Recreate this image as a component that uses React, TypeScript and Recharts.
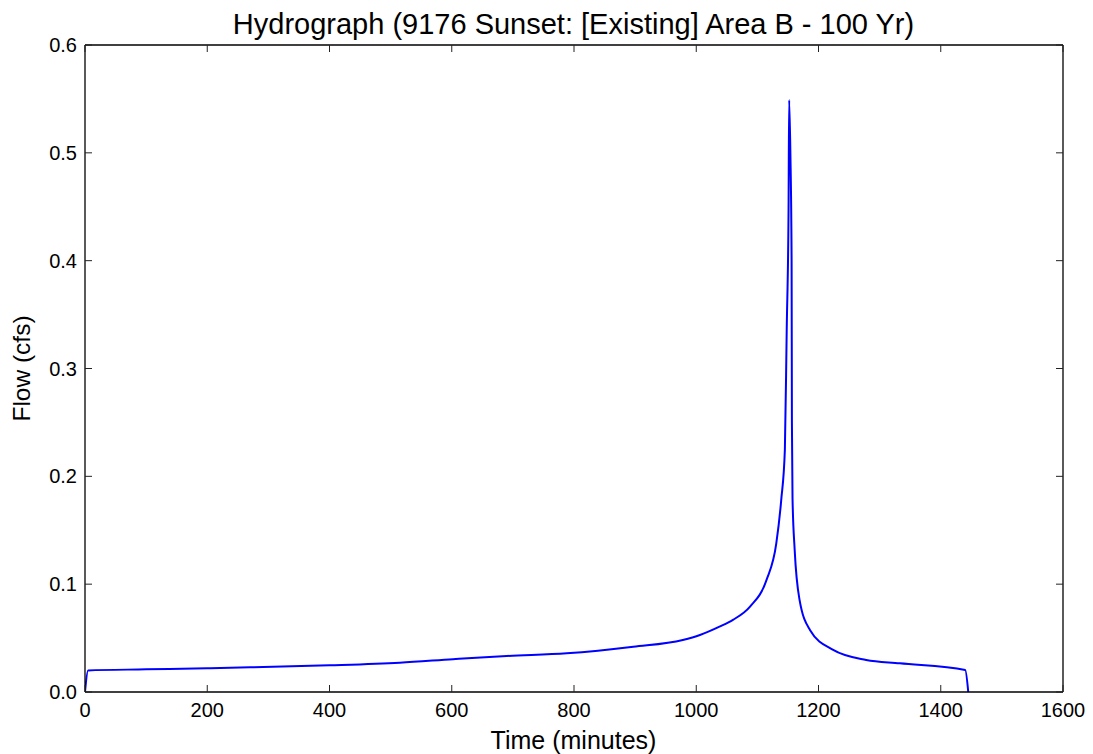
import React from "react";
import { LineChart, Line, XAxis, YAxis, ReferenceLine } from "recharts";

const TITLE = "Hydrograph (9176 Sunset: [Existing] Area B - 100 Yr)";
const X_LABEL = "Time (minutes)";
const Y_LABEL = "Flow (cfs)";

const timeMinutes = [
  0, 5, 100, 200, 270, 400, 515, 602, 690, 788, 897, 978, 1006, 1038, 1060,
  1088, 1115, 1131, 1139, 1145, 1148, 1151, 1152, 1154, 1156, 1156.5, 1157.5,
  1161, 1169, 1186, 1224, 1278, 1333, 1440, 1445,
];
const flowCfs = [
  0, 0.02, 0.021, 0.022, 0.0229, 0.0248, 0.0272, 0.0304, 0.0334, 0.0359, 0.042,
  0.0483, 0.0529, 0.0606, 0.0669, 0.0792, 0.104, 0.138, 0.178, 0.225, 0.336,
  0.447, 0.549, 0.5, 0.4, 0.25, 0.18, 0.132, 0.0854, 0.0576, 0.039, 0.0297,
  0.0266, 0.0204, 0,
];
const xTicks = [0, 200, 400, 600, 800, 1000, 1200, 1400, 1600];
const yTicks = [0, 0.1, 0.2, 0.3, 0.4, 0.5, 0.6];

const data = timeMinutes.map((t, i) => ({ t, q: flowCfs[i] }));

const W = 1085;
const H = 746;
const M = { top: 37, right: 30, bottom: 12, left: 17 };
const Y_AXIS_W = 60;
const X_AXIS_H = 50;
const PLOT_LEFT = M.left + Y_AXIS_W;
const PLOT_RIGHT = W - M.right;
const PLOT_TOP = M.top;
const PLOT_BOTTOM = H - M.bottom - X_AXIS_H;
const TICK_LEN = 7;
const FONT = "'Liberation Sans', Arial, Helvetica, sans-serif";
const FRAME = "#000";

const XTick = (props: any) => {
  const { x, payload } = props;
  return (
    <g>
      <line x1={x} x2={x} y1={PLOT_BOTTOM} y2={PLOT_BOTTOM - TICK_LEN} stroke="#222" strokeWidth={1} />
      <line x1={x} x2={x} y1={PLOT_TOP} y2={PLOT_TOP + TICK_LEN} stroke="#222" strokeWidth={1} />
      <text x={x} y={PLOT_BOTTOM + 25} textAnchor="middle" fontSize={20} fill="#000" fontFamily={FONT}>
        {String(payload.value)}
      </text>
    </g>
  );
};

const YTick = (props: any) => {
  const { y, payload } = props;
  return (
    <g>
      <line x1={PLOT_LEFT} x2={PLOT_LEFT + TICK_LEN} y1={y} y2={y} stroke="#222" strokeWidth={1} />
      <line x1={PLOT_RIGHT} x2={PLOT_RIGHT - TICK_LEN} y1={y} y2={y} stroke="#222" strokeWidth={1} />
      <text x={PLOT_LEFT - 8} y={y + 7} textAnchor="end" fontSize={20} fill="#000" fontFamily={FONT}>
        {Number(payload.value).toFixed(1)}
      </text>
    </g>
  );
};

export default function App() {
  return (
    <div style={{ position: "relative", width: W, height: H, fontFamily: FONT }}>
      <LineChart width={W} height={H} data={data} margin={M}>
        <XAxis
          dataKey="t"
          type="number"
          domain={[0, 1600]}
          ticks={xTicks}
          interval={0}
          height={X_AXIS_H}
          tickSize={0}
          tickLine={false}
          axisLine={{ stroke: FRAME, strokeWidth: 1.3 }}
          tick={<XTick />}
          allowDataOverflow
        />
        <YAxis
          type="number"
          domain={[0, 0.6]}
          ticks={yTicks}
          interval={0}
          width={Y_AXIS_W}
          tickSize={0}
          tickLine={false}
          axisLine={{ stroke: FRAME, strokeWidth: 1.3 }}
          tick={<YTick />}
          allowDataOverflow
        />
        <ReferenceLine y={0.6} stroke={FRAME} strokeWidth={1.3} ifOverflow="extendDomain" />
        <ReferenceLine x={1600} stroke={FRAME} strokeWidth={1.3} ifOverflow="extendDomain" />
        <Line
          type="monotoneX"
          dataKey="q"
          stroke="#0000ff"
          strokeWidth={2}
          dot={false}
          isAnimationActive={false}
        />
      </LineChart>
      <svg
        width={W}
        height={H}
        style={{ position: "absolute", left: 0, top: 0, pointerEvents: "none" }}
      >
        <text x={565.5} y={25.5} textAnchor="middle" fontSize={29} fill="#000" fontFamily={FONT}>
          {TITLE}
        </text>
        <text x={565.5} y={741} textAnchor="middle" fontSize={25} fill="#000" fontFamily={FONT}>
          {X_LABEL}
        </text>
        <text
          x={22}
          y={360.5}
          textAnchor="middle"
          fontSize={24.5}
          fill="#000"
          fontFamily={FONT}
          transform="rotate(-90, 22, 360.5)"
        >
          {Y_LABEL}
        </text>
      </svg>
    </div>
  );
}
